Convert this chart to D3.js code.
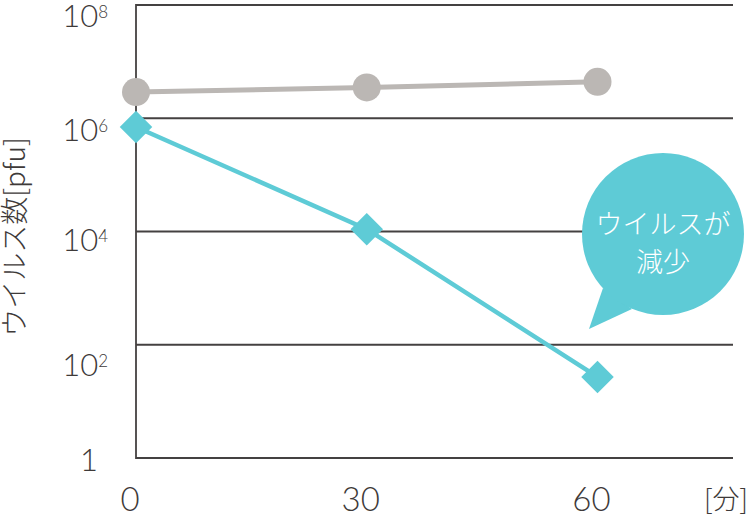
<!DOCTYPE html>
<html>
<head>
<meta charset="utf-8">
<script src="https://cdn.jsdelivr.net/npm/d3@7/dist/d3.min.js"></script>
<style>
  html, body { margin: 0; padding: 0; background: #fff; }
  svg { display: block; }
</style>
</head>
<body>
<svg id="chart" width="750" height="515"></svg>
<script>
// ---- data ----
const minutes = [0, 30, 60];
const controlValues = [2.9e6, 3.5e6, 4.4e6];   // gray series (no change)
const treatedValues = [7.0e5, 1.1e4, 27];      // teal series (virus reduced)
const yTickExponents = [0, 2, 4, 6, 8];
const xTickLabels = ["0", "30", "60"];
const xUnitLabel = "[分]";
const yTitle = "ウイルス数[pfu]";
const bubbleLines = ["ウイルスが", "減少"];

// ---- setup ----
const svg = d3.select("#chart");
const textColor = "#3e3a39";
const gridColor = "#444141";
const gray = "#bbb7b4";
const teal = "#5ecbd6";
const fontNum = "Lato, 'Noto Sans', 'Liberation Sans', sans-serif";
const fontJP = "'Noto Sans CJK JP', 'Noto Sans', sans-serif";

const plotL = 136, plotR = 733, plotT = 5, plotB = 458;
const x = d3.scaleLinear().domain([0, 60]).range([plotL, 597.5]);
const y = d3.scaleLog().domain([1, 1e8]).range([plotB, plotT]);

// gridlines
svg.append("g").selectAll("line")
  .data(yTickExponents)
  .join("line")
  .attr("x1", plotL).attr("x2", plotR)
  .attr("y1", d => y(Math.pow(10, d))).attr("y2", d => y(Math.pow(10, d)))
  .attr("stroke", gridColor).attr("stroke-width", 1.8);

// y axis line
svg.append("line")
  .attr("x1", plotL).attr("x2", plotL)
  .attr("y1", y(1e8) - 0.9).attr("y2", y(1) + 0.9)
  .attr("stroke", gridColor).attr("stroke-width", 1.8);

// y tick labels
const nudge = {0: 0, 2: 9, 4: -3, 6: 1, 8: 0};
const yLab = svg.append("g").selectAll("text")
  .data(yTickExponents)
  .join("text")
  .attr("fill", textColor)
  .attr("font-family", fontNum)
  .attr("font-weight", 300)
  .attr("font-size", 31)
  .attr("text-anchor", "end");
yLab.each(function(d) {
  const t = d3.select(this);
  const yy = y(Math.pow(10, d));
  if (d === 0) {
    t.attr("x", 98).attr("y", yy + 13).text("1");
  } else {
    t.attr("x", 108).attr("y", yy + 22 + nudge[d]);
    t.append("tspan").text("10");
    t.append("tspan").attr("font-size", 17).attr("dy", -9).text(String(d));
  }
});

// x tick labels
svg.append("g").selectAll("text")
  .data(minutes)
  .join("text")
  .attr("x", d => x(d) - 6)
  .attr("y", 511)
  .attr("text-anchor", "middle")
  .attr("fill", textColor)
  .attr("font-family", fontNum)
  .attr("font-weight", 300)
  .attr("font-size", 33)
  .text((d, i) => xTickLabels[i]);

svg.append("text")
  .attr("x", 726).attr("y", 509)
  .attr("text-anchor", "middle")
  .attr("fill", textColor)
  .attr("font-family", fontJP)
  .attr("font-weight", 300)
  .attr("font-size", 27)
  .text(xUnitLabel);

// y title
svg.append("text")
  .attr("transform", "translate(25,237) rotate(-90)")
  .attr("text-anchor", "middle")
  .attr("fill", textColor)
  .attr("font-family", fontJP)
  .attr("font-weight", 300)
  .attr("font-size", 28)
  .text(yTitle);

// lines
const line = d3.line().x(d => x(d[0])).y(d => y(d[1]));
const grayData = minutes.map((m, i) => [m, controlValues[i]]);
const tealData = minutes.map((m, i) => [m, treatedValues[i]]);

svg.append("path").datum(grayData)
  .attr("d", line).attr("fill", "none")
  .attr("stroke", gray).attr("stroke-width", 5);
svg.append("g").selectAll("circle")
  .data(grayData).join("circle")
  .attr("cx", d => x(d[0])).attr("cy", d => y(d[1]))
  .attr("r", 14).attr("fill", gray);

svg.append("path").datum(tealData)
  .attr("d", line).attr("fill", "none")
  .attr("stroke", teal).attr("stroke-width", 4.5);
svg.append("g").selectAll("path.dia")
  .data(tealData).join("path")
  .attr("class", "dia")
  .attr("d", d3.symbol().type(d3.symbolSquare).size(23 * 23))
  .attr("transform", d => `translate(${x(d[0])},${y(d[1])}) rotate(45)`)
  .attr("fill", teal);

// speech bubble annotation
const bx = 663, by = 234, br = 81;
const bubble = svg.append("g");
bubble.append("path")
  .attr("d", `M603,288 L589,329 L632,309 Z`)
  .attr("fill", teal);
bubble.append("circle")
  .attr("cx", bx).attr("cy", by).attr("r", br)
  .attr("fill", teal);
bubble.selectAll("text")
  .data(bubbleLines).join("text")
  .attr("x", bx)
  .attr("y", (d, i) => 234 + i * 38)
  .attr("text-anchor", "middle")
  .attr("fill", "#fff")
  .attr("font-family", fontJP)
  .attr("font-weight", 300)
  .attr("font-size", 27)
  .text(d => d);
</script>
</body>
</html>
